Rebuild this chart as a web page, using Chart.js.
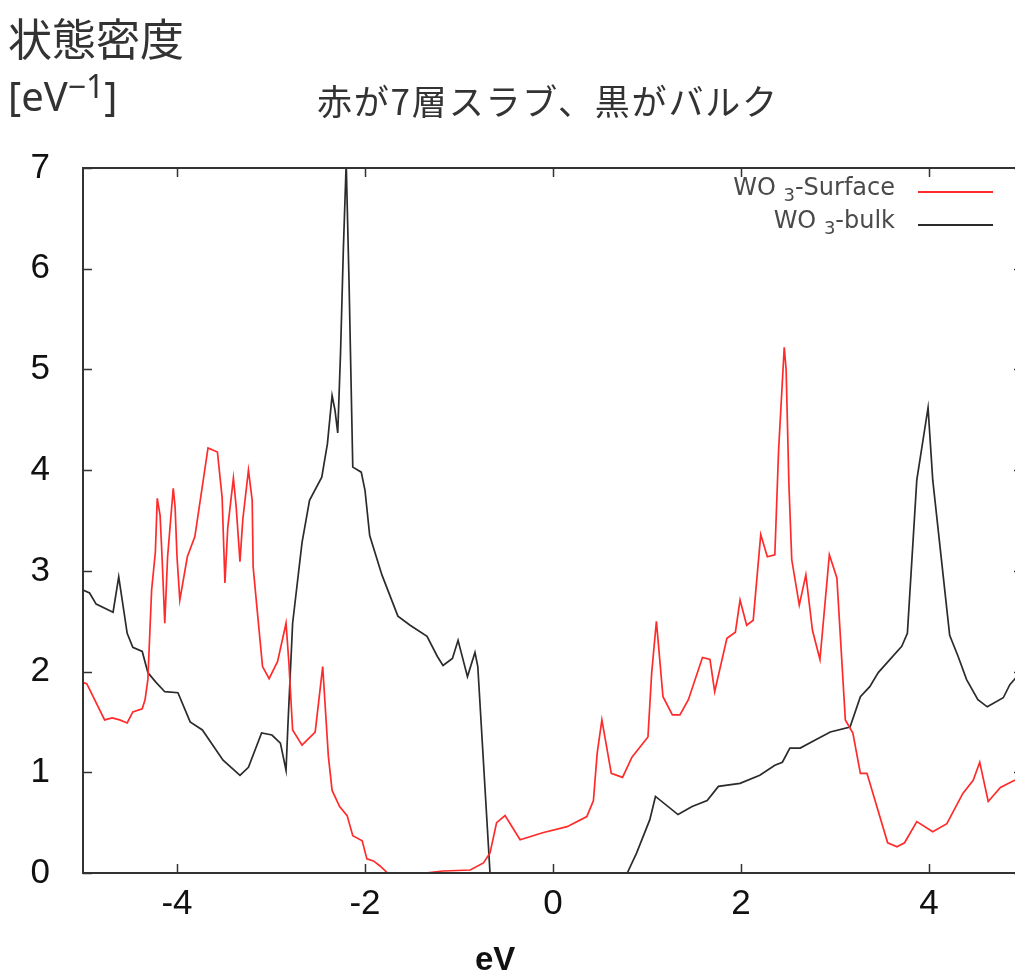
<!DOCTYPE html>
<html lang="ja">
<head>
<meta charset="utf-8">
<title>状態密度</title>
<script src="https://cdn.jsdelivr.net/npm/chart.js@4.4.1/dist/chart.umd.min.js"></script>
<style>
  html, body { margin: 0; padding: 0; background: #fff; overflow: hidden; }
  body { width: 1015px; height: 976px; position: relative; font-family: "Noto Sans CJK JP", sans-serif; color: #333; }
  #myChart { position: absolute; left: 0; top: 0; }
  .label { position: absolute; white-space: nowrap; line-height: 1; }
  #dosLabel { left: 8px; top: 15px; font-size: 44px; }
  #unitLabel { left: 8px; top: 76px; font-size: 40px; font-family: "Noto Sans", sans-serif; }
  #unitLabel sup { font-size: 0.8em; vertical-align: 0.42em; line-height: 0; }
  #title { left: 317px; top: 82px; font-size: 35px; letter-spacing: 1.8px; }
  #xTitle { left: 475px; top: 940px; font: bold 33px "Liberation Sans", sans-serif; color: #111; }
</style>
</head>
<body>
<canvas id="myChart" width="1040" height="976"></canvas>
<div class="label" id="dosLabel">状態密度</div>
<div class="label" id="unitLabel">[eV<sup>−1</sup>]</div>
<div class="label" id="title">赤が7層スラブ、黒がバルク</div>
<div class="label" id="xTitle">eV</div>
<script>
// WO3 density of states, 7-layer slab (red) and bulk (black)
const xTickValues = [-4, -2, 0, 2, 4];
const yTickValues = [0, 1, 2, 3, 4, 5, 6, 7];

const surfaceEnergy = [
  -5.00, -4.96, -4.77, -4.69, -4.61, -4.53, -4.47, -4.37, -4.34, -4.31,
  -4.27, -4.23, -4.21, -4.18, -4.16, -4.13, -4.10, -4.04, -4.02, -4.00,
  -3.97, -3.89, -3.81, -3.67, -3.57, -3.52, -3.49, -3.46, -3.40, -3.37,
  -3.33, -3.30, -3.24, -3.20, -3.19, -3.15, -3.09, -3.02, -2.93, -2.84,
  -2.81, -2.77, -2.67, -2.53, -2.45, -2.39, -2.35, -2.27, -2.19, -2.13,
  -2.03, -1.98, -1.91, -1.84, -1.76, -1.36, -1.17, -0.88, -0.74, -0.67,
  -0.60, -0.51, -0.35, -0.11, 0.15, 0.36, 0.43, 0.47, 0.52, 0.62,
  0.74, 0.84, 1.01, 1.05, 1.10, 1.17, 1.27, 1.35, 1.44, 1.59,
  1.67, 1.72, 1.85, 1.94, 1.99, 2.06, 2.13, 2.21, 2.28, 2.36,
  2.40, 2.46, 2.48, 2.51, 2.54, 2.62, 2.69, 2.76, 2.84, 2.94,
  3.02, 3.11, 3.19, 3.27, 3.34, 3.56, 3.66, 3.74, 3.87, 4.04,
  4.19, 4.36, 4.47, 4.54, 4.63, 4.76, 4.91, 5.00
];
const surfaceDos = [
  1.89, 1.88, 1.52, 1.54, 1.52, 1.49, 1.60, 1.63, 1.72, 1.92,
  2.81, 3.19, 3.72, 3.55, 3.16, 2.48, 3.14, 3.82, 3.63, 3.14,
  2.71, 3.14, 3.34, 4.22, 4.18, 3.73, 2.88, 3.43, 3.92, 3.63,
  3.09, 3.51, 4.00, 3.70, 3.04, 2.64, 2.05, 1.93, 2.10, 2.48,
  2.09, 1.42, 1.27, 1.40, 2.05, 1.16, 0.82, 0.66, 0.57, 0.37,
  0.32, 0.14, 0.12, 0.07, 0.00, 0.00, 0.02, 0.03, 0.10, 0.20,
  0.50, 0.57, 0.33, 0.40, 0.46, 0.56, 0.72, 1.19, 1.52, 0.99,
  0.95, 1.15, 1.35, 1.99, 2.50, 1.75, 1.57, 1.57, 1.72, 2.14,
  2.12, 1.80, 2.33, 2.39, 2.71, 2.46, 2.51, 3.36, 3.14, 3.16,
  4.20, 5.22, 5.00, 3.85, 3.11, 2.66, 2.96, 2.41, 2.12, 3.16,
  2.93, 1.52, 1.39, 0.99, 0.99, 0.30, 0.26, 0.30, 0.51, 0.41,
  0.49, 0.79, 0.92, 1.10, 0.71, 0.85, 0.92, 0.93
];

const bulkEnergy = [
  -5.00, -4.93, -4.86, -4.68, -4.62, -4.53, -4.47, -4.37, -4.31, -4.23,
  -4.13, -3.99, -3.86, -3.73, -3.51, -3.33, -3.24, -3.10, -2.99, -2.90,
  -2.84, -2.82, -2.77, -2.67, -2.59, -2.46, -2.40, -2.35, -2.32, -2.29,
  -2.26, -2.23, -2.20, -2.17, -2.13, -2.04, -2.00, -1.95, -1.82, -1.65,
  -1.52, -1.34, -1.23, -1.17, -1.07, -1.01, -0.91, -0.83, -0.80, -0.67,
  0.79, 0.89, 1.03, 1.09, 1.33, 1.48, 1.64, 1.76, 1.99, 2.20,
  2.36, 2.44, 2.52, 2.63, 2.79, 2.95, 3.16, 3.27, 3.37, 3.46,
  3.71, 3.77, 3.87, 3.99, 4.04, 4.22, 4.31, 4.40, 4.52, 4.62,
  4.79, 4.86, 5.00
];
const bulkDos = [
  2.81, 2.78, 2.67, 2.59, 2.94, 2.38, 2.24, 2.20, 1.99, 1.90,
  1.80, 1.79, 1.50, 1.42, 1.12, 0.97, 1.05, 1.39, 1.37, 1.29,
  1.02, 1.47, 2.48, 3.28, 3.70, 3.93, 4.26, 4.74, 4.60, 4.37,
  5.17, 6.20, 7.05, 5.88, 4.03, 3.98, 3.80, 3.35, 2.96, 2.55,
  2.46, 2.35, 2.15, 2.06, 2.13, 2.31, 1.95, 2.19, 2.05, 0.00,
  0.00, 0.20, 0.53, 0.76, 0.58, 0.66, 0.72, 0.86, 0.89, 0.97,
  1.07, 1.10, 1.24, 1.24, 1.32, 1.40, 1.45, 1.75, 1.85, 1.99,
  2.25, 2.38, 3.90, 4.62, 3.90, 2.36, 2.15, 1.92, 1.72, 1.65,
  1.74, 1.87, 2.02
];

const seriesLabels = ["WO3-Surface", "WO3-bulk"];
const seriesColors = ["#ff2b2b", "#2b2b2b"];

const toPoints = (xs, ys) => xs.map((x, i) => ({ x: x, y: ys[i] }));

// gnuplot style border with inward ticks
const plotFrame = {
  id: "plotFrame",
  afterDatasetsDraw(chart) {
    const { ctx, chartArea, scales } = chart;
    ctx.save();
    ctx.strokeStyle = "#333";
    ctx.lineWidth = 2;
    ctx.strokeRect(chartArea.left, chartArea.top, chartArea.right - chartArea.left, chartArea.bottom - chartArea.top);
    ctx.lineWidth = 1.5;
    ctx.beginPath();
    xTickValues.forEach((v) => {
      const px = Math.round(scales.x.getPixelForValue(v)) + 0.5;
      ctx.moveTo(px, chartArea.bottom);
      ctx.lineTo(px, chartArea.bottom - 9);
      ctx.moveTo(px, chartArea.top);
      ctx.lineTo(px, chartArea.top + 9);
    });
    yTickValues.forEach((v) => {
      const py = Math.round(scales.y.getPixelForValue(v)) + 0.5;
      ctx.moveTo(chartArea.left, py);
      ctx.lineTo(chartArea.left + 9, py);
      ctx.moveTo(chartArea.right, py);
      ctx.lineTo(chartArea.right - 9, py);
    });
    ctx.stroke();
    ctx.restore();
  },
};

// key in the upper right corner, text first then line sample
const cornerKey = {
  id: "cornerKey",
  afterDraw(chart) {
    const { ctx, chartArea } = chart;
    const big = '24px "DejaVu Sans", sans-serif';
    const small = '18px "DejaVu Sans", sans-serif';
    ctx.save();
    chart.data.datasets.forEach((ds, i) => {
      const y = chartArea.top + 21 + i * 33;
      const m = ds.label.match(/^(\D+)(\d)(.*)$/);
      const parts = [
        { t: m[1] + " ", f: big, dy: 0 },
        { t: m[2], f: small, dy: 7 },
        { t: m[3], f: big, dy: 0 },
      ];
      let w = 0;
      parts.forEach((p) => { ctx.font = p.f; p.w = ctx.measureText(p.t).width; w += p.w; });
      let x = chartArea.right - 128 - w;
      ctx.fillStyle = "#4a4a4a";
      ctx.textBaseline = "middle";
      parts.forEach((p) => {
        ctx.font = p.f;
        ctx.fillText(p.t, x, y + p.dy);
        x += p.w;
      });
      ctx.strokeStyle = ds.borderColor;
      ctx.lineWidth = 2;
      ctx.beginPath();
      ctx.moveTo(chartArea.right - 105, y + 3);
      ctx.lineTo(chartArea.right - 30, y + 3);
      ctx.stroke();
    });
    ctx.restore();
  },
};

const ctx = document.getElementById("myChart").getContext("2d");

const myChart = new Chart(ctx, {
  type: "line",
  data: {
    datasets: [
      {
        label: seriesLabels[0],
        data: toPoints(surfaceEnergy, surfaceDos),
        borderColor: seriesColors[0],
        borderWidth: 1.7,
        pointRadius: 0,
        tension: 0,
      },
      {
        label: seriesLabels[1],
        data: toPoints(bulkEnergy, bulkDos),
        borderColor: seriesColors[1],
        borderWidth: 1.7,
        pointRadius: 0,
        tension: 0,
      },
    ],
  },
  options: {
    responsive: false,
    animation: false,
    devicePixelRatio: 1,
    layout: {
      padding: { top: 168, right: 17, left: 0, bottom: 0 },
    },
    plugins: {
      legend: { display: false },
      tooltip: { enabled: false },
    },
    scales: {
      x: {
        type: "linear",
        min: -5,
        max: 5,
        grid: { display: false, drawTicks: false },
        border: { display: false },
        afterBuildTicks: (scale) => {
          scale.ticks = xTickValues.map((v) => ({ value: v }));
        },
        afterFit: (scale) => {
          scale.height = 103;
        },
        ticks: {
          font: { size: 35, family: "Liberation Sans" },
          color: "#111",
          padding: 10,
          maxRotation: 0,
          autoSkip: false,
        },
      },
      y: {
        min: 0,
        max: 7,
        grid: { display: false, drawTicks: false },
        border: { display: false },
        afterBuildTicks: (scale) => {
          scale.ticks = yTickValues.map((v) => ({ value: v }));
        },
        afterFit: (scale) => {
          scale.width = 83;
        },
        ticks: {
          font: { size: 35, family: "Liberation Sans" },
          color: "#111",
          padding: 33,
          autoSkip: false,
        },
      },
    },
  },
  plugins: [plotFrame, cornerKey],
});
</script>
</body>
</html>
